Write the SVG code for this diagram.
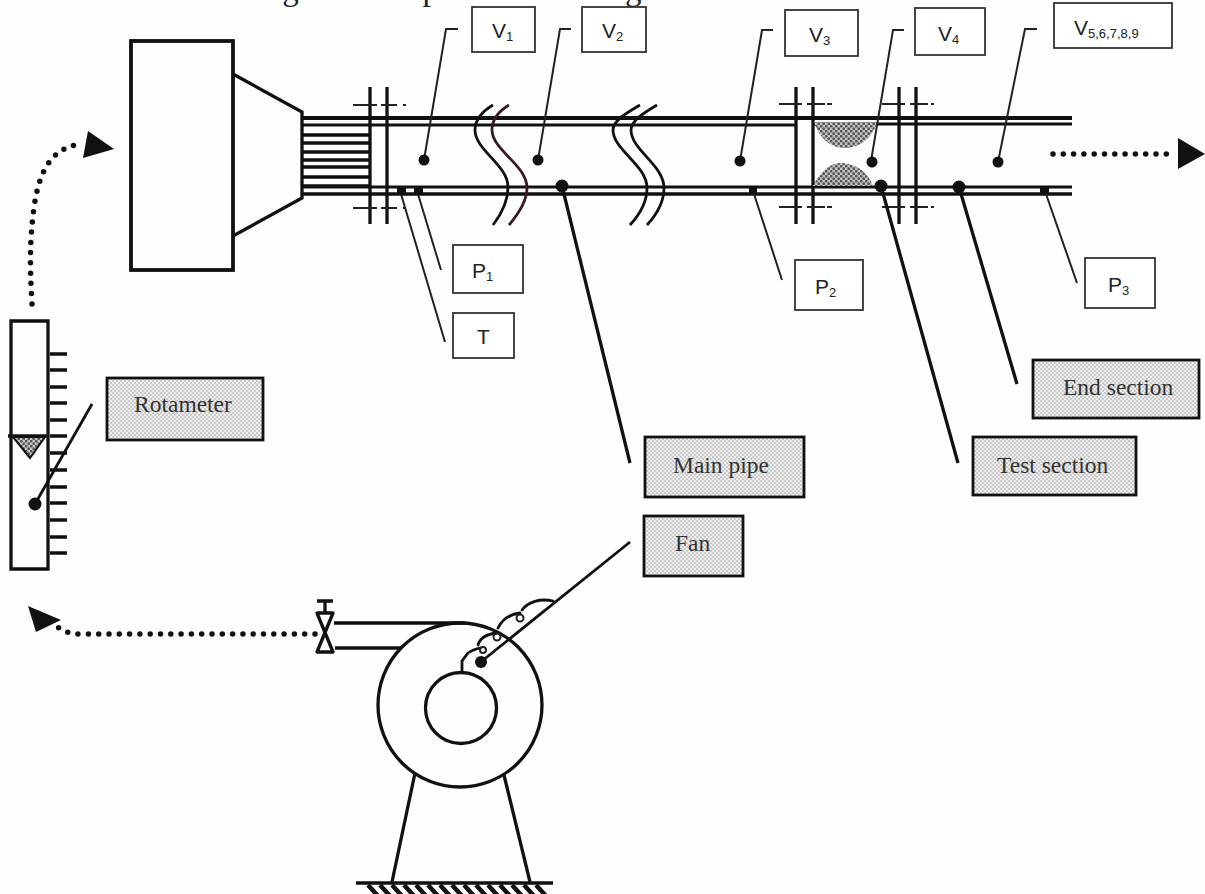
<svg xmlns="http://www.w3.org/2000/svg" width="1205" height="894" viewBox="0 0 1205 894">
<style>
.k{fill:none;stroke:#111;stroke-width:3.3}
.t{fill:none;stroke:#222;stroke-width:2}
.m{fill:none;stroke:#111;stroke-width:2.8}
.h{fill:none;stroke:#111;stroke-width:2.8;stroke-linecap:round}
.d{fill:#111;stroke:none}
.lab{fill:#fff;stroke:#333;stroke-width:1.8}
.gb{fill:url(#dots);stroke:#111;stroke-width:2.8}
.s{font-family:"Liberation Serif",serif;font-size:23.5px;fill:#333}
.v{font-family:"Liberation Sans",sans-serif;font-size:21px;fill:#222}
.sub{font-size:13px}
.dot{fill:none;stroke:#111;stroke-width:5.5;stroke-linecap:round;stroke-dasharray:0 10.3}
.dash{fill:none;stroke:#222;stroke-width:2.2}
</style>
<defs>
<pattern id="dots" width="4" height="4" patternUnits="userSpaceOnUse">
<rect width="4" height="4" fill="#eeeeee"/><circle cx="1" cy="1" r="0.8" fill="#9c9c9c"/><circle cx="3" cy="3" r="0.8" fill="#9c9c9c"/>
</pattern>
<pattern id="dark" width="5" height="5" patternUnits="userSpaceOnUse">
<rect width="5" height="5" fill="#c4c4c4"/><circle cx="1.2" cy="1.2" r="1.4" fill="#555"/><circle cx="3.7" cy="3.7" r="1.4" fill="#555"/>
</pattern>
</defs>
<rect width="1205" height="894" fill="#fefefe"/>
<text x="45" y="0" font-family="Liberation Serif,serif" font-size="33" fill="#222">Schematic drawing of the experimental design</text>

<g id="settling-chamber">
<rect class="k" x="131" y="41" width="102" height="229" style="stroke-width:3.8"/>
<path class="k" d="M233 74L302 112V198L233 236"/>
<path class="k" d="M302 135H370M302 143H370M302 152H370M302 160H370M302 167H370M302 177H370M302 186H370"/>
</g>

<g id="pipe">
<path class="k" d="M302 118H1072" style="stroke-width:3.8"/>
<path class="m" d="M302 125H796M813 124H1072"/>
<path class="m" d="M302 187H1072"/>
<path class="k" d="M302 194H1072"/>
<path class="k" d="M370 87V224M387 87V224M796 87V224M813 87V224M899 87V224M916 87V224"/>
<path class="dash" d="M353 105H377M381 105H397M403 105H406M353 208H377M381 208H397M403 208H406M779 104H802M807 104H825M827 104H832M779 207H802M807 207H825M827 207H832M882 104H905M910 104H928M931 104H934M882 207H905M910 207H928M931 207H934"/>
<path class="m" d="M493 105C483 111 475 120 475 130C475 150 508 165 508 187C508 200 503 212 493 225"/>
<path class="m" d="M509 105C499 111 492 120 492 130C492 150 527 165 527 188C527 200 520 212 509 225" style="stroke:#3a1a20"/>
<path class="m" d="M640 105C630 111 613 120 613 130C613 150 647 165 647 188C647 200 642 212 630 225"/>
<path class="m" d="M657 105C647 111 631 120 631 130C631 150 664 165 664 188C664 200 659 212 647 225"/>
<path d="M814 122H877C872 140 858 148 845 148C832 148 820 140 814 122Z" fill="url(#dark)"/>
<path d="M813 186C820 172 830 163 840 163C855 163 868 172 873 186Z" fill="url(#dark)"/>
</g>

<g id="connectors">
<path class="t" d="M424 160L446 29H458M538 160L560 29H571M740 161L762 30H773M871 161L893 30H904M998 162L1025 29H1037"/>
<path class="t" d="M401 194L445 342M418 194L441 270M754 194L782 280M1046 194L1077 283"/>
<path class="k" d="M562 186L630 463M881 186L958 463M959 187L1017 384"/>
<path class="m" d="M482 661L630 542"/>
<path class="m" d="M35 504L92 404"/>
<path class="dot" d="M32 304C30 270 29 240 35 201C39 178 48 147 82 144"/>
<path class="dot" d="M1053 154H1175"/>
<path class="dot" d="M315 634H80C65 634 58 628 52 622"/>
</g>
<path class="d" d="M88 131L114 149L83 158Z"/>
<path class="d" d="M1178 138L1205 154L1178 169Z"/>
<path class="d" d="M28 606L61 620L36 632Z"/>

<g id="sensors">
<circle class="d" cx="424" cy="160" r="5.5"/><circle class="d" cx="538" cy="160" r="5.5"/><circle class="d" cx="740" cy="161" r="5.5"/><circle class="d" cx="872" cy="162" r="5.5"/><circle class="d" cx="998" cy="162" r="5.5"/>
<circle class="d" cx="562" cy="186" r="6.5"/><circle class="d" cx="881" cy="186" r="6.5"/><circle class="d" cx="959" cy="187" r="6.5"/>
<rect class="d" x="397" y="188" width="9" height="7"/><rect class="d" x="414" y="188" width="9" height="7"/><rect class="d" x="749" y="187" width="8" height="7"/><rect class="d" x="1040" y="187" width="9" height="7"/>
</g>

<g id="label-v1"><rect class="lab" x="472" y="7" width="63" height="45"/><text class="v" x="492" y="38">V<tspan class="sub" dy="3">1</tspan></text></g>
<g id="label-v2"><rect class="lab" x="582" y="7" width="64" height="45"/><text class="v" x="602" y="38">V<tspan class="sub" dy="3">2</tspan></text></g>
<g id="label-v3"><rect class="lab" x="785" y="10" width="73" height="46"/><text class="v" x="809" y="42">V<tspan class="sub" dy="3">3</tspan></text></g>
<g id="label-v4"><rect class="lab" x="915" y="8" width="70" height="47"/><text class="v" x="938" y="41">V<tspan class="sub" dy="3">4</tspan></text></g>
<g id="label-v5"><rect class="lab" x="1054" y="3" width="118" height="45"/><text class="v" x="1074" y="35">V<tspan class="sub" dy="3">5,6,7,8,9</tspan></text></g>
<g id="label-p1"><rect class="lab" x="453" y="245" width="70" height="48"/><text class="v" x="472" y="278">P<tspan class="sub" dy="3">1</tspan></text></g>
<g id="label-p2"><rect class="lab" x="795" y="260" width="68" height="50"/><text class="v" x="815" y="294">P<tspan class="sub" dy="3">2</tspan></text></g>
<g id="label-p3"><rect class="lab" x="1085" y="258" width="70" height="50"/><text class="v" x="1108" y="292">P<tspan class="sub" dy="3">3</tspan></text></g>
<g id="label-t"><rect class="lab" x="453" y="313" width="61" height="45"/><text class="v" x="477" y="344">T</text></g>

<g id="label-rotameter"><rect class="gb" x="107" y="378" width="156" height="62"/><text class="s" x="134" y="412">Rotameter</text></g>
<g id="label-end"><rect class="gb" x="1033" y="360" width="166" height="58"/><text class="s" x="1063" y="395">End section</text></g>
<g id="label-test"><rect class="gb" x="973" y="437" width="163" height="58"/><text class="s" x="997" y="473">Test section</text></g>
<g id="label-main"><rect class="gb" x="645" y="437" width="159" height="60"/><text class="s" x="673" y="473">Main pipe</text></g>
<g id="label-fan"><rect class="gb" x="644" y="516" width="99" height="60"/><text class="s" x="675" y="551">Fan</text></g>

<g id="rotameter">
<path class="k" d="M11 321H48V569H11Z"/>
<path class="k" d="M50 354H67M50 370H67M50 387H67M50 403H67M50 420H67M50 436H67M50 453H67M50 470H67M50 487H67M50 503H67M50 520H67M50 537H67M50 553H67"/>
<path d="M13 437H45L30 458Z" fill="url(#dark)" stroke="#111" stroke-width="2"/>
<path class="k" d="M8 436H48"/>
<circle class="d" cx="35" cy="504" r="6.5"/>
</g>

<g id="fan">
<circle class="k" cx="460" cy="705" r="82"/>
<circle class="k" cx="461" cy="708" r="35.5"/>
<path class="k" d="M334 623H465M335 648H402"/>
<path class="k" d="M317 613H333L317 652H333Z" style="stroke-linejoin:round"/>
<path class="k" d="M325 602V613M317 601H333"/>
<path class="h" d="M462 671V661L468 653C472 650 476 649 480 648"/>
<circle class="t" cx="483" cy="650" r="3"/>
<path class="h" d="M478 645C480 638 487 634 497 633"/>
<circle class="t" cx="497" cy="637" r="3.5"/>
<path class="h" d="M498 628C503 618 511 614 520 613"/>
<circle class="t" cx="520" cy="618" r="3.5"/>
<path class="h" d="M522 610C528 602 540 598 553 601"/>
<circle class="d" cx="481" cy="662" r="6"/>
<path class="k" d="M392 882L415 773M530 882L504 775"/>
<path class="k" d="M356 883H553" style="stroke-width:3.6"/>
<path class="k" d="M368 885L378 896M380 885L390 896M392 885L402 896M404 885L414 896M416 885L426 896M428 885L438 896M440 885L450 896M452 885L462 896M464 885L474 896M476 885L486 896M488 885L498 896M500 885L510 896M512 885L522 896M524 885L534 896M536 885L546 896" style="stroke-width:4.5"/>
</g>
</svg>
